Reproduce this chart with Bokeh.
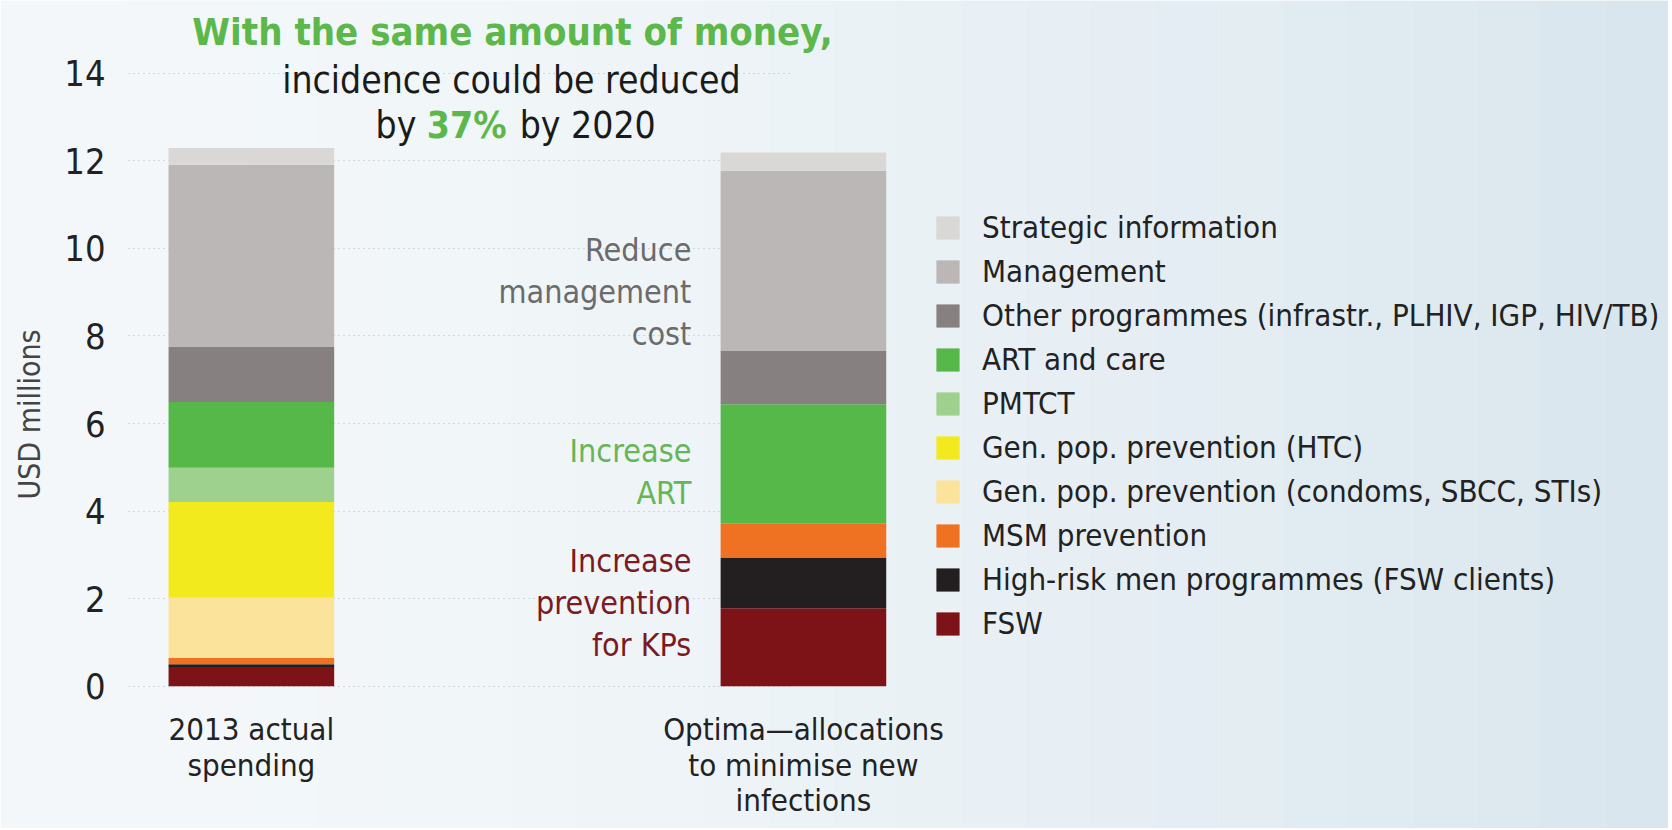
from bokeh.plotting import figure
from bokeh.models import Legend, LegendItem, ColumnDataSource, FixedTicker, Range1d, BoxAnnotation
from bokeh.embed import file_html
from bokeh.resources import INLINE
from bokeh.core.properties import value

# ---------------- data ----------------
categories = ["2013 actual\nspending", "Optima\u2014allocations\nto minimise new\ninfections"]
x_pos = [0, 1]
series = ["fsw", "high_risk_men", "msm", "condoms", "htc", "pmtct", "art", "other", "management", "strategic"]
series_labels = [
    "FSW",
    "High-risk men programmes (FSW clients)",
    "MSM prevention",
    "Gen. pop. prevention (condoms, SBCC, STIs)",
    "Gen. pop. prevention (HTC)",
    "PMTCT",
    "ART and care",
    "Other programmes (infrastr., PLHIV, IGP, HIV/TB)",
    "Management",
    "Strategic information",
]
fsw = [0.44, 1.78]
high_risk_men = [0.06, 1.16]
msm = [0.15, 0.78]
condoms = [1.37, 0.0]
htc = [2.19, 0.0]
pmtct = [0.78, 0.0]
art = [1.50, 2.72]
other = [1.27, 1.23]
management = [4.15, 4.10]
strategic = [0.38, 0.42]
colors = ["#7d1316", "#231f20", "#ee7222", "#fbe39c", "#f2ea1c",
          "#9fd18e", "#55b848", "#878081", "#bbb7b6", "#dad7d7"]
y_ticks = [0, 2, 4, 6, 8, 10, 12, 14]

FONT = "DejaVu Sans Condensed, serif"
BG_LEFT = (0xf3, 0xf7, 0xf9)
BG_RIGHT = (0xd9, 0xe6, 0xee)

src = ColumnDataSource(dict(x=x_pos, fsw=fsw, high_risk_men=high_risk_men, msm=msm,
                            condoms=condoms, htc=htc, pmtct=pmtct, art=art, other=other,
                            management=management, strategic=strategic))

X0, X1 = -0.228, 2.567
p = figure(frame_width=1543, frame_height=828, x_range=Range1d(X0, X1), y_range=Range1d(-3.248, 15.66),
           output_backend="svg", toolbar_location=None,
           min_border_left=125, min_border_top=0, min_border_bottom=0, min_border_right=0)
p.background_fill_color = "#%02x%02x%02x" % BG_LEFT
p.border_fill_color = "#%02x%02x%02x" % BG_LEFT
p.outline_line_color = None

# soft left-to-right background shading (decoration)
n_strips = 24
for i in range(n_strips):
    t = (i / (n_strips - 1)) ** 1.6
    c = tuple(round(a + (b - a) * t) for a, b in zip(BG_LEFT, BG_RIGHT))
    left = X0 + (X1 - X0) * i / n_strips
    right = X0 + (X1 - X0) * (i + 1) / n_strips
    p.add_layout(BoxAnnotation(left=left, right=right, fill_color="#%02x%02x%02x" % c,
                               fill_alpha=1.0, line_color=None, level="image"))

renderers = p.vbar_stack(series, x="x", width=0.30, color=colors, line_color=None, source=src)

# axes
p.xaxis.fixed_location = 0
p.xaxis.ticker = FixedTicker(ticks=x_pos)
p.xaxis.major_label_overrides = {x: c for x, c in zip(x_pos, categories)}
p.xaxis.major_label_text_font = FONT
p.xaxis.major_label_text_font_size = "31px"
p.xaxis.major_label_text_color = "#222222"
p.xaxis.major_label_text_line_height = 0.98
p.xaxis.major_label_standoff = 19
p.xaxis.axis_line_color = None
p.xaxis.major_tick_line_color = None
p.xaxis.minor_tick_line_color = None

p.yaxis.ticker = FixedTicker(ticks=y_ticks)
p.yaxis.major_label_text_font = FONT
p.yaxis.major_label_text_font_size = "36px"
p.yaxis.major_label_text_color = "#222222"
p.yaxis.major_label_standoff = 14
p.yaxis.axis_line_color = None
p.yaxis.major_tick_line_color = None
p.yaxis.minor_tick_line_color = None
p.yaxis.axis_label = "USD millions"
p.yaxis.axis_label_text_font = FONT
p.yaxis.axis_label_text_font_size = "30px"
p.yaxis.axis_label_text_font_style = "normal"
p.yaxis.axis_label_text_color = "#444444"
p.yaxis.axis_label_standoff = 14

p.xgrid.grid_line_color = None
p.ygrid.grid_line_color = "#b4b9be"
p.ygrid.grid_line_dash = "1 4"
p.ygrid.grid_line_width = 1
p.ygrid.cross_bounds = (-0.223, 0.976)

# headline
p.text(x=[0.473], y=[14.93], text=["With the same amount of money,"], text_font=value(FONT),
       text_font_size="38px", text_font_style="bold", text_color="#5cb84a",
       text_align="center", text_baseline="middle")
p.text(x=[0.471], y=[13.84], text=["incidence could be reduced"], text_font=value(FONT),
       text_font_size="37px", text_color="#1a1a1a", text_align="center", text_baseline="middle")
p.text(x=[0.299], y=[12.81], text=["by"], text_font=value(FONT),
       text_font_size="37px", text_color="#1a1a1a", text_align="right", text_baseline="middle")
p.text(x=[0.390], y=[12.81], text=["37%"], text_font=value(FONT), text_font_style="bold",
       text_font_size="37px", text_color="#5cb84a", text_align="center", text_baseline="middle")
p.text(x=[0.486], y=[12.81], text=["by 2020"], text_font=value(FONT),
       text_font_size="37px", text_color="#1a1a1a", text_align="left", text_baseline="middle")

# annotations
p.text(x=[0.797], y=[9.00], text=["Reduce\nmanagement\ncost"], text_font=value(FONT),
       text_font_size="32px", text_color="#6b6b6b", text_align="right", text_baseline="middle",
       text_line_height=1.10)
p.text(x=[0.797], y=[4.90], text=["Increase\nART"], text_font=value(FONT),
       text_font_size="32px", text_color="#66b556", text_align="right", text_baseline="middle",
       text_line_height=1.10)
p.text(x=[0.797], y=[1.90], text=["Increase\nprevention\nfor KPs"], text_font=value(FONT),
       text_font_size="32px", text_color="#7a1a22", text_align="right", text_baseline="middle",
       text_line_height=1.10)

# legend (top item = Strategic information)
items = [LegendItem(label=lab, renderers=[r]) for lab, r in zip(series_labels, renderers)][::-1]
legend = Legend(items=items, location=(808, 185))
legend.margin = 0
legend.padding = 0
legend.border_line_color = None
legend.background_fill_alpha = 0
legend.label_text_font = FONT
legend.label_text_font_size = "31px"
legend.label_text_color = "#222222"
legend.glyph_width = 29
legend.glyph_height = 29
legend.label_height = 40
legend.label_standoff = 20
legend.spacing = 4
p.add_layout(legend)

open("out.html", "w").write(file_html(p, INLINE))
